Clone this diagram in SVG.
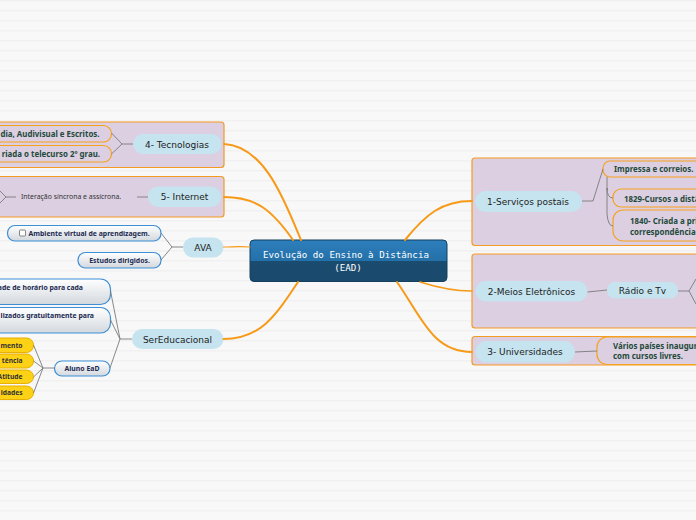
<svg xmlns="http://www.w3.org/2000/svg" width="696" height="520" viewBox="0 0 696 520">
<defs>
<pattern id="stripes" x="0" y="0" width="10" height="10" patternUnits="userSpaceOnUse">
<rect width="10" height="10" fill="#f8f8f8"/>
<rect y="0" width="10" height="1.5" fill="#f1f1f1"/>
</pattern>
<linearGradient id="gbox" x1="0" y1="0" x2="0" y2="1">
<stop offset="0" stop-color="#ffffff"/>
<stop offset="1" stop-color="#d3d8de"/>
</linearGradient>
<linearGradient id="gcenter" x1="0" y1="0" x2="0" y2="1">
<stop offset="0" stop-color="#2d7fbd"/>
<stop offset="0.5" stop-color="#2470a8"/>
<stop offset="0.5" stop-color="#1a4c70"/>
<stop offset="1" stop-color="#1a4a6c"/>
</linearGradient>
</defs>
<style>
.frame{fill:#dccfe2;stroke:#f59a23;stroke-width:1.2}
.pill{fill:#c5e4ef}
.obox{fill:#dccfe2;stroke:#f7a21b;stroke-width:1.2}
.bbox{fill:url(#gbox);stroke:#3d8fd6;stroke-width:1.2}
.ybox{fill:#fcd116;stroke:#e8b000;stroke-width:1}
.main{fill:none;stroke:#f79a17;stroke-linecap:round}
.sub{fill:none;stroke:#7a7a7a;stroke-width:0.9}
.lbl{font-family:"DejaVu Sans",Verdana,sans-serif;font-size:9px;fill:#222;text-anchor:middle}
.gt{font-family:"Noto Sans","Open Sans",sans-serif;font-size:7.9px;font-weight:bold;fill:#1f4a3b}
.nt{font-family:"Noto Sans","Open Sans",sans-serif;font-size:6.9px;font-weight:bold;fill:#1c2b52}
.yt{font-family:"Noto Sans","Open Sans",sans-serif;font-size:6.7px;font-weight:bold;fill:#333;text-anchor:end}
.ct{font-family:"DejaVu Sans Mono","Liberation Mono",monospace;font-size:9.2px;fill:#ffffff;text-anchor:middle}
</style>
<rect width="696" height="520" fill="url(#stripes)"/>

<g id="center">
<rect x="250" y="240" width="197" height="41.5" rx="4" fill="url(#gcenter)" stroke="#15405f" stroke-width="1"/>
<text class="ct" x="346" y="258">Evolução do Ensino à Distância</text>
<text class="ct" x="348" y="271">(EAD)</text>
</g>

<g id="n1">
<rect class="frame" x="472" y="158" width="240" height="87.5" rx="3"/>
<rect class="pill" x="475" y="191" width="107" height="21" rx="10.5"/>
<text class="lbl" x="528" y="204.5">1-Serviços postais</text>
</g>
<g id="n1a">
<rect class="obox" x="603" y="161" width="120" height="16" rx="7"/>
<text class="gt" x="614" y="172">Impressa e correios.</text>
</g>
<g id="n1b">
<rect class="obox" x="613" y="189" width="120" height="18" rx="8"/>
<text class="gt" x="624" y="201.5">1829-Cursos a distância</text>
</g>
<g id="n1c">
<rect class="obox" x="613" y="210" width="120" height="31" rx="10"/>
<text class="gt" x="630" y="223.5">1840- Criada a primeira</text>
<text class="gt" x="630" y="234.5">correspondência</text>
</g>

<g id="n2">
<rect class="frame" x="472" y="254" width="240" height="74" rx="3"/>
<rect class="pill" x="475.5" y="281" width="112" height="20.5" rx="10"/>
<text class="lbl" x="531.5" y="294.5">2-Meios Eletrônicos</text>
</g>
<g id="n2a">
<rect class="pill" x="607" y="282" width="71" height="16.5" rx="8"/>
<text class="lbl" x="642.5" y="293.5">Rádio e Tv</text>
</g>

<g id="n3">
<rect class="frame" x="472" y="336.5" width="240" height="28.5" rx="3"/>
<rect class="pill" x="475.5" y="341" width="99.5" height="21.5" rx="10.5"/>
<text class="lbl" x="525" y="355">3- Universidades</text>
</g>
<g id="n3a">
<rect class="obox" x="597" y="337" width="120" height="27.5" rx="10"/>
<text class="gt" x="613" y="348.5">Vários países inauguram</text>
<text class="gt" x="613" y="359">com cursos livres.</text>
</g>

<g id="n4">
<rect class="frame" x="-20" y="122" width="244" height="45.5" rx="3"/>
<rect class="pill" x="133" y="134" width="88.5" height="20" rx="10"/>
<text class="lbl" x="177" y="147.5">4- Tecnologias</text>
</g>
<g id="n4a">
<rect class="obox" x="-20" y="125.5" width="131.5" height="16.5" rx="8"/>
<text class="gt" x="99.5" y="137.2" text-anchor="end">dia, Audivisual e Escritos.</text>
</g>
<g id="n4b">
<rect class="obox" x="-20" y="145.5" width="131.5" height="16.5" rx="8"/>
<text class="gt" x="100" y="157.2" text-anchor="end">riada o telecurso 2º grau.</text>
</g>

<g id="n5">
<rect class="frame" x="-20" y="176.5" width="244" height="40.5" rx="3"/>
<rect class="pill" x="148" y="186.5" width="73" height="20.5" rx="10"/>
<text class="lbl" x="184.5" y="200">5- Internet</text>
</g>
<g id="n5a">
<text x="21" y="199.4" font-family="'Noto Sans','Open Sans',sans-serif" font-size="6.9" fill="#333">Interação síncrona e assícrona.</text>
</g>

<g id="n6">
<rect class="pill" x="183" y="237.5" width="40.5" height="20" rx="10"/>
<text class="lbl" x="203" y="250.5">AVA</text>
</g>
<g id="n6a">
<rect class="bbox" x="7.5" y="225.5" width="153.5" height="15.5" rx="7.5"/>
<rect x="19.5" y="230" width="6" height="6" rx="1" fill="#fff" stroke="#555" stroke-width="0.7"/>
<text class="nt" x="28.5" y="235.7">Ambiente virtual de aprendizagem.</text>
</g>
<g id="n6b">
<rect class="bbox" x="78" y="252.5" width="83" height="15.5" rx="7.5"/>
<text class="nt" x="119.5" y="262.7" text-anchor="middle">Estudos dirigidos.</text>
</g>

<g id="n7">
<rect class="pill" x="132" y="329" width="91.5" height="20" rx="10"/>
<text class="lbl" x="177.5" y="342.5">SerEducacional</text>
</g>
<g id="n7a">
<rect class="bbox" x="-20" y="279" width="130.5" height="25.5" rx="10"/>
<text class="nt" x="83" y="290.2" text-anchor="end">ade de horário para cada</text>
</g>
<g id="n7b">
<rect class="bbox" x="-20" y="307.5" width="130.5" height="25.5" rx="10"/>
<text class="nt" x="94" y="318.2" text-anchor="end">lizados gratuitamente para</text>
</g>
<g id="n7c">
<rect class="bbox" x="54.5" y="361" width="55.5" height="15" rx="7.5"/>
<text class="nt" x="82" y="370.8" text-anchor="middle">Aluno EaD</text>
</g>
<g id="y1">
<rect class="ybox" x="-20" y="338" width="53.5" height="14.5" rx="7"/>
<text class="yt" x="22.5" y="347.6">mento</text>
</g>
<g id="y2">
<rect class="ybox" x="-20" y="354" width="53.5" height="14" rx="7"/>
<text class="yt" x="22.5" y="363.4">tência</text>
</g>
<g id="y3">
<rect class="ybox" x="-20" y="370" width="53.5" height="13.5" rx="7"/>
<text class="yt" x="22.5" y="379.2">Atitude</text>
</g>
<g id="y4">
<rect class="ybox" x="-20" y="386" width="53.5" height="13.5" rx="7"/>
<text class="yt" x="22.5" y="395.2">idades</text>
</g>

<g id="connectors">
<path class="main" stroke-width="2" d="M301,240 C286,205 266,146 224,144"/>
<path class="main" stroke-width="2" d="M293,240 C272,210 256,197 224,197"/>
<path class="main" stroke-width="1.2" d="M250,247 C240,246 232,247 223.5,247"/>
<path class="main" stroke-width="2" d="M298,282 C276,315 261,339 223.5,339"/>
<path class="main" stroke-width="2" d="M405,240 C426,214 442,201 472,201"/>
<path class="main" stroke-width="1.6" d="M420,282 C442,289 456,291 472,291"/>
<path class="main" stroke-width="2" d="M397,282 C421,316 432,352 472,352"/>
<path class="sub" d="M582,201 L593,201 L603,169"/>
<path class="sub" stroke-width="1.4" d="M607,177 L607,190"/>
<path class="sub" d="M607,188 Q607,198 613,198"/>
<path class="sub" d="M607,188 L607,214 Q608,226 613,226"/>
<path class="sub" d="M587.5,292 L607,290"/>
<path class="sub" d="M678,291 L689,291 L696,279 M689,291 L696,304"/>
<path class="sub" d="M575,352 L597,351"/>
<path class="sub" d="M133,144 L122,144 L111.5,133 M122,144 L111.5,154"/>
<path class="sub" d="M148,197 L137,197"/>
<path class="sub" d="M16,197 L6,197 L0,191 M6,197 L0,203"/>
<path class="sub" d="M183,247 L172,247 L161,233 M172,247 L161,260"/>
<path class="sub" d="M132,339 L120,339 L110.5,291 M120,339 L110.5,320 M120,339 L110,368"/>
<path class="sub" d="M54.5,368 L43,368 L33.5,345 M43,368 L33.5,361 M43,368 L33.5,377 M43,368 L33.5,393"/>
</g>
</svg>
